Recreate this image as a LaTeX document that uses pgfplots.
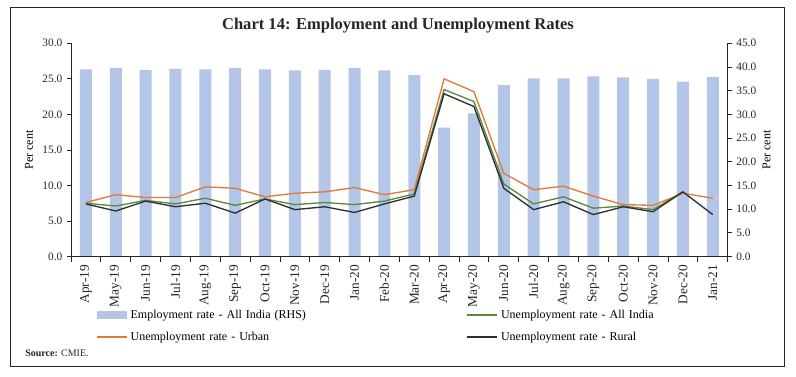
\documentclass[border=0pt]{standalone}
\usepackage{fontspec}
\setmainfont{Liberation Serif}
\usepackage{pgfplots}
\pgfplotsset{compat=1.18}
\usepackage{pgfplotstable}
\definecolor{barcol}{HTML}{B4C6E7}
\definecolor{urb}{HTML}{E07B39}
\definecolor{alli}{HTML}{5A8A3A}
\definecolor{rur}{HTML}{2F2F2F}
\definecolor{axc}{HTML}{262626}

\pgfplotstableread{
idx emp urban allindia rural
0  39.5 7.6  7.5  7.4
1  39.8 8.7  7.1  6.4
2  39.4 8.3  7.9  7.8
3  39.6 8.3  7.4  7.0
4  39.5 9.8  8.2  7.5
5  39.8 9.6  7.2  6.1
6  39.5 8.4  8.1  8.1
7  39.3 8.9  7.3  6.6
8  39.4 9.1  7.6  7.0
9  39.8 9.7  7.3  6.2
10 39.3 8.7  7.8  7.4
11 38.3 9.4  8.8  8.5
12 27.2 25.0 23.5 22.9
13 30.2 23.2 21.8 21.1
14 36.2 11.7 10.2 9.6
15 37.6 9.4  7.4  6.6
16 37.6 9.9  8.4  7.7
17 38.0 8.5  6.8  5.9
18 37.8 7.3  7.1  7.0
19 37.5 7.2  6.6  6.3
20 36.9 8.9  9.1  9.1
21 37.9 8.2  nan  5.9
}\data

\pgfplotsset{
  base/.style={
    scale only axis, width=492.5pt, height=159.9pt,
    at={(53.25pt,-192.375pt)}, anchor=south west,
    xmin=-0.5, xmax=21.5,
    tick align=outside,
    /pgf/number format/assume math mode=true,
    tick label style={font=\fontsize{8.5}{10}\selectfont, text=axc},
    yticklabel style={/pgf/number format/fixed, /pgf/number format/fixed zerofill, /pgf/number format/precision=1},
    axis line style={axc, line width=0.6pt},
    tick style={axc, line width=0.6pt},
    major tick length=3pt, minor tick length=4pt,
    label style={font=\fontsize{9}{10}\selectfont},
  },
  barleg/.style={legend image code/.code={\fill[##1] (0pt,-2.9pt) rectangle (22.5pt,2.9pt);}},
  lineleg/.style={legend image code/.code={\draw[##1] (0pt,0pt) -- (22.5pt,0pt);}},
}

\begin{document}
\begin{tikzpicture}
\path[use as bounding box] (0pt,0pt) rectangle (597pt,-282pt);
\fill[white] (0pt,0pt) rectangle (597pt,-282pt);

\begin{axis}[base,
  ymin=0, ymax=45, ytick={0,5,...,45},
  axis y line*=right, axis x line=none,
  ybar, bar width=9pt,
  ylabel={Per cent},
  ylabel style={at={(axis description cs:1.059,0.5)}, anchor=center},
]
\addplot[fill=barcol, draw=none] table[x=idx, y=emp]{\data};
\end{axis}

\begin{axis}[base,
  ymin=0, ymax=30, ytick={0,5,...,30},
  axis y line*=left, axis x line*=bottom,
  xtick={0,...,21},
  xticklabels={Apr-19,May-19,Jun-19,Jul-19,Aug-19,Sep-19,Oct-19,Nov-19,Dec-19,Jan-20,Feb-20,Mar-20,Apr-20,May-20,Jun-20,Jul-20,Aug-20,Sep-20,Oct-20,Nov-20,Dec-20,Jan-21},
  xticklabel style={rotate=90, anchor=east, font=\fontsize{10}{11}\selectfont},
  minor xtick={-0.5,0.5,...,21.5},
  major x tick style={draw=none},
  ylabel={Per cent},
  ylabel style={at={(axis description cs:-0.064,0.5)}, anchor=center},
  legend columns=2,
  legend cell align=left,
  legend style={draw=none, fill=none, inner sep=0pt,
    at={(axis description cs:0.038,-0.246)}, anchor=north west,
    font=\fontsize{9}{11}\selectfont, row sep=7.5pt,
    nodes={text width=250pt, inner xsep=2pt, inner ysep=0pt, text height=7pt, text depth=2pt, align=left}},
]
\addlegendimage{barleg, fill=barcol, draw=none}
\addlegendentry{Employment rate - All India (RHS)}
\addlegendimage{lineleg, alli, line width=1.3pt}
\addlegendentry{Unemployment rate - All India}
\addlegendimage{lineleg, urb, line width=1.3pt}
\addlegendentry{Unemployment rate - Urban}
\addlegendimage{lineleg, rur, line width=1.3pt}
\addlegendentry{Unemployment rate - Rural}

\addplot[urb, line width=1pt, forget plot] table[x=idx, y=urban]{\data};
\addplot[alli, line width=1pt, forget plot] table[x=idx, y=allindia]{\data};
\addplot[rur, line width=1pt, forget plot] table[x=idx, y=rural]{\data};
\end{axis}

\node[font=\bfseries\fontsize{12.4}{15}\selectfont, text=axc] at (298.5pt,-19.5pt) {Chart 14: Employment and Unemployment Rates};
\node[anchor=west, font=\fontsize{7.5}{9}\selectfont, inner sep=0pt, text=axc] at (18.75pt,-264.75pt) {\textbf{Source:} CMIE.};
\draw[axc, line width=0.8pt] (8pt,-5.5pt) rectangle (588.2pt,-275pt);
\end{tikzpicture}
\end{document}
